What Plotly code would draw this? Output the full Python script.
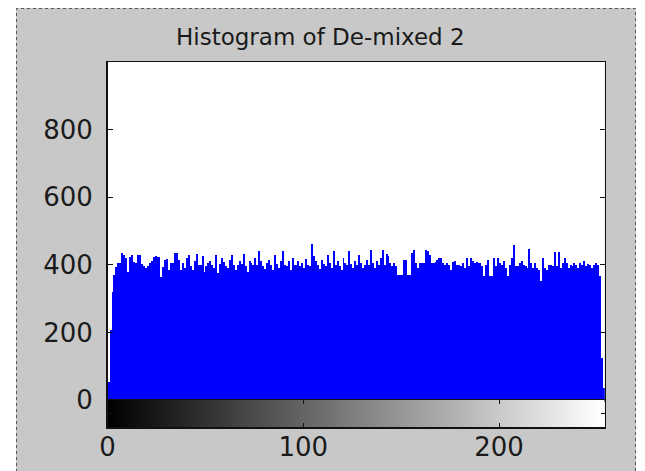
import plotly.graph_objects as go

# ---- data (counts per grey level, bins 0..253 visible) ----
counts = [
    54, 207, 320, 370, 394, 404, 405, 436, 428, 420, 378, 423, 430, 407, 404, 428,
    428, 402, 397, 392, 397, 405, 410, 424, 426, 424, 424, 365, 394, 414, 416, 384,
    406, 404, 436, 434, 414, 384, 404, 390, 420, 430, 395, 385, 410, 432, 400, 398,
    425, 378, 395, 405, 412, 398, 390, 430, 375, 402, 420, 408, 396, 392, 415, 428,
    400, 385, 398, 410, 402, 432, 395, 380, 412, 405, 398, 420, 400, 442, 410, 395,
    388, 405, 415, 398, 385, 430, 402, 392, 410, 440, 400, 395, 410, 385, 420, 400,
    398, 412, 395, 405, 390, 418, 400, 395, 462, 425, 410, 398, 388, 415, 402, 395,
    430, 405, 392, 440, 400, 410, 395, 385, 420, 405, 398, 440, 402, 392, 412, 398,
    430, 405, 392, 400, 415, 398, 445, 405, 392, 410, 398, 420, 443, 398, 433, 426,
    404, 396, 404, 396, 371, 371, 371, 415, 413, 371, 371, 435, 443, 405, 390, 405,
    405, 405, 443, 440, 430, 405, 405, 407, 413, 420, 420, 405, 400, 405, 400, 385,
    408, 410, 400, 400, 396, 405, 392, 420, 396, 420, 410, 405, 408, 405, 405, 396,
    366, 398, 415, 366, 366, 420, 396, 420, 405, 398, 412, 390, 366, 398, 420, 458,
    395, 395, 405, 410, 400, 395, 390, 447, 404, 390, 405, 392, 384, 351, 420, 390,
    385, 400, 398, 395, 437, 395, 437, 390, 404, 420, 404, 392, 398, 395, 405, 400,
    392, 405, 398, 410, 395, 402, 400, 392, 398, 405, 400, 368, 124, 35,
]
grey_levels = list(range(len(counts)))
x_ticks = [0, 100, 200]
x_tick_labels = ["0", "100", "200"]
y_ticks = [0, 200, 400, 600, 800]
y_tick_labels = ["0", "200", "400", "600", "800"]
title_text = "Histogram of De-mixed 2"

W, H = 645, 471
def px(x):
    return x / W
def py(y):
    return 1 - y / H

AX_L, AX_R = 107.6, 604.8
HIST_T, HIST_B = 62, 400
CB_B = 427
GREY = "#c8c8c8"
FONT = "DejaVu Sans"
TXT = "#1a1a1a"

fig = go.Figure()

fig.add_trace(go.Bar(
    x=[g + 0.5 for g in grey_levels], y=counts, width=1,
    marker=dict(color="#0000ff", line=dict(width=0)),
    xaxis="x", yaxis="y", hoverinfo="skip",
))

fig.add_trace(go.Heatmap(
    x=[g + 0.5 for g in grey_levels], y=[0.5], z=[grey_levels],
    colorscale=[[0, "#000000"], [1, "#ffffff"]], showscale=False,
    xaxis="x2", yaxis="y2", hoverinfo="skip",
))

axis_common = dict(showline=True, linecolor="#111111", linewidth=1.5,
                   showgrid=False, zeroline=False, automargin=False)

fig.update_layout(
    width=W, height=H,
    margin=dict(l=0, r=0, t=0, b=0, pad=0, autoexpand=False),
    paper_bgcolor=GREY, plot_bgcolor="#ffffff",
    showlegend=False, bargap=0,
    font=dict(family=FONT, color=TXT),
    xaxis=dict(domain=[px(AX_L), px(AX_R)], range=[0, 254], anchor="y",
               showticklabels=False, ticks="", mirror=True, **axis_common),
    yaxis=dict(domain=[py(HIST_B), py(HIST_T)], range=[0, 1000], anchor="x",
               tickmode="array", tickvals=y_ticks, ticktext=y_tick_labels,
               ticks="inside", ticklen=5, tickcolor="#111111", mirror="ticks",
               tickfont=dict(size=26, family=FONT, color=TXT),
               ticklabelstandoff=8, **axis_common),
    xaxis2=dict(domain=[px(AX_L), px(AX_R)], range=[0, 254], anchor="y2",
                tickmode="array", tickvals=x_ticks, ticktext=x_tick_labels,
                ticks="inside", ticklen=4, tickcolor="#111111", mirror="ticks",
                tickfont=dict(size=26, family=FONT, color=TXT),
                ticklabelstandoff=-4, **axis_common),
    yaxis2=dict(domain=[py(CB_B), py(HIST_B)], range=[0, 1], anchor="x2",
                tickmode="array", tickvals=[0.5], showticklabels=False,
                ticks="inside", ticklen=4, tickcolor="#111111", mirror="ticks",
                **axis_common),
)

# title
fig.add_annotation(text=title_text, x=px(320), y=py(37), xref="paper", yref="paper",
                   showarrow=False, xanchor="center", yanchor="middle",
                   font=dict(size=23, family=FONT, color=TXT))

# white surroundings and dotted figure border
for x0, y0, x1, y1 in [(0, 0, 16, H + 2), (0, 0, W, 8), (636, 0, W + 2, H + 2)]:
    fig.add_shape(type="rect", xref="paper", yref="paper",
                  x0=px(x0), x1=px(x1), y0=py(y1), y1=py(y0),
                  fillcolor="#ffffff", line=dict(width=0), layer="above")
fig.add_shape(type="rect", xref="paper", yref="paper",
              x0=px(16.5), x1=px(635.5), y0=py(H + 5), y1=py(8.5),
              fillcolor="rgba(0,0,0,0)", line=dict(color="#555555", width=1, dash="dot"),
              layer="above")

fig.write_html(
    "out.html",
    config={"displayModeBar": False, "staticPlot": True},
    post_script="document.body.style.margin='0';document.body.style.overflow='hidden';",
)
